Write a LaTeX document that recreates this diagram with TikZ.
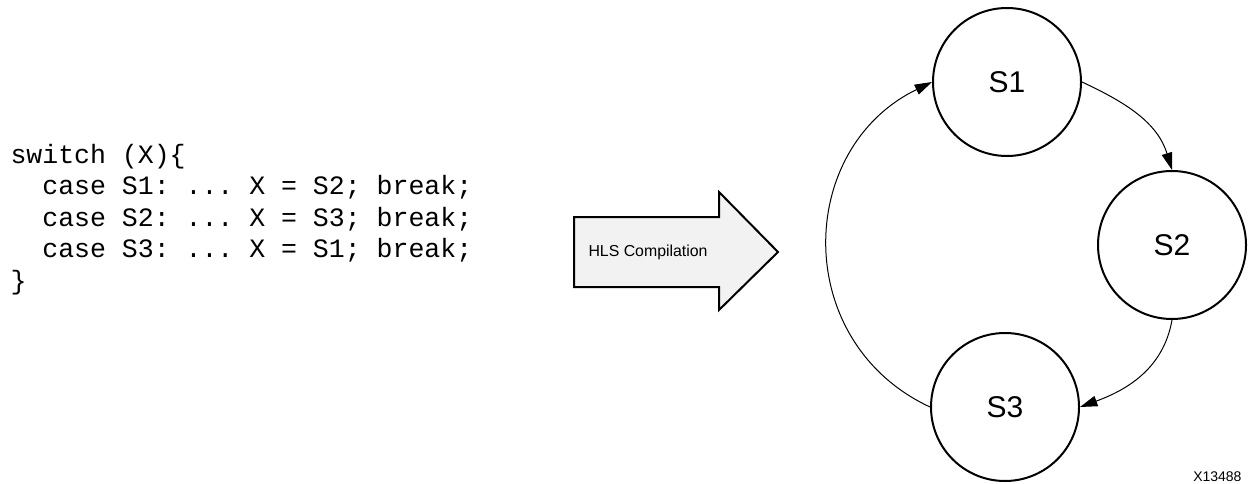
\documentclass[tikz,border=0pt]{standalone}
\usepackage{fontspec}
\setmainfont{Liberation Sans}
\setmonofont{Liberation Mono}
\usetikzlibrary{arrows.meta}
\begin{document}
\begin{tikzpicture}[x=0.75pt, y=0.75pt, line width=0.75pt,
  fsmstate/.style={circle, draw, line width=1.5pt, minimum size=111pt, inner sep=0pt,
    font=\fontsize{22.5}{27}\selectfont},
  trans/.style={-{Triangle[length=13pt, width=8pt]}, line width=0.75pt}]
  \useasboundingbox (0,0) rectangle (1248,483);
  % 코드
  \node[anchor=base west, align=left, inner sep=0pt,
    font=\ttfamily\fontsize{19.9}{23.6}\selectfont] (code) at (10,194)
    {switch (X)\{\\
     ~~case S1: ... X = S2; break;\\
     ~~case S2: ... X = S3; break;\\
     ~~case S3: ... X = S1; break;\\
     \}};
  % 변환 화살표
  \draw[fill=gray!10, line width=1.5pt, line join=miter]
    (574,266) -- (719,266) -- (719,291) -- (778,231) -- (719,173) -- (719,196) -- (574,196) -- cycle;
  \node[anchor=west, inner sep=0pt, font=\fontsize{11.9}{14}\selectfont] (hls) at (588,231) {HLS Compilation};
  % 상태
  \node[fsmstate] (s1) at (1007,401) {S1};
  \node[fsmstate] (s2) at (1172,238) {S2};
  \node[fsmstate] (s3) at (1005,76) {S3};
  % 전이
  \draw[trans] (s1.east) to[out=-25, in=107] (s2.north);
  \draw[trans] (s2.south) to[out=-100, in=20] (s3.east);
  \draw[trans] (s3.west) to[out=155, in=206, looseness=1.2] (s1.west);
  % 그림 번호
  \node[anchor=base east, inner sep=0pt, font=\fontsize{10.5}{12}\selectfont] (fignum) at (1242,2) {X13488};
\end{tikzpicture}
\end{document}
